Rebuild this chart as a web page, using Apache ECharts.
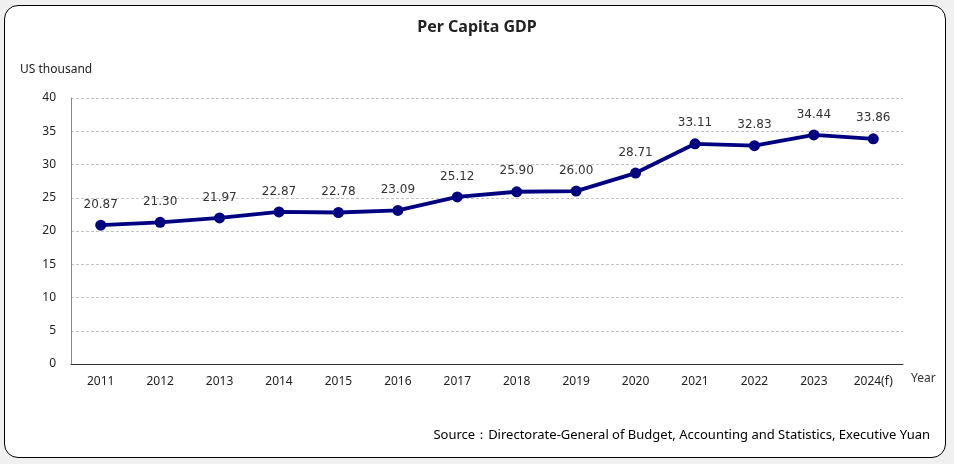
<!DOCTYPE html>
<html><head><meta charset="utf-8">
<script src="https://cdn.jsdelivr.net/npm/echarts@6/dist/echarts.min.js"></script>
<style>
html,body{margin:0;padding:0;background:#f0f0f0;width:954px;height:464px;overflow:hidden;}
#box{position:absolute;left:4px;top:5px;width:940px;height:451px;border:1.5px solid #000;border-radius:14px;background:#fff;}
#c{position:absolute;left:0;top:0;width:954px;height:464px;}
</style></head>
<body><div id="box"></div><div id="c"></div>
<script>
const categories = ['2011','2012','2013','2014','2015','2016','2017','2018','2019','2020','2021','2022','2023','2024(f)'];
const gdpValues = [20.87,21.30,21.97,22.87,22.78,23.09,25.12,25.90,26.00,28.71,33.11,32.83,34.44,33.86];
const yTicks = {min:0,max:40,interval:5};
const font = 'Noto Sans, DejaVu Sans, sans-serif';
const chart = echarts.init(document.getElementById('c'));
chart.setOption({
  backgroundColor:'transparent',
  animation:false,
  title:{text:'Per Capita GDP',left:'center',top:14,textStyle:{fontFamily:font,fontSize:16,fontWeight:'bold',color:'#222'}},
  grid:{left:71,right:51,top:98,bottom:100,containLabel:false,outerBoundsMode:'none'},
  xAxis:{type:'category',data:categories,name:'Year',nameGap:8,nameTextStyle:{fontFamily:font,fontSize:12,color:'#333',verticalAlign:'top',padding:[9,0,0,0]},
    axisLine:{lineStyle:{color:'#333',width:1}},axisTick:{show:false},
    axisLabel:{fontFamily:font,fontSize:12,color:'#222',margin:12}},
  yAxis:{type:'value',min:yTicks.min,max:yTicks.max,interval:yTicks.interval,
    axisLine:{show:true,lineStyle:{color:'#888'}},
    axisLabel:{fontFamily:font,fontSize:12,color:'#222',margin:15},
    splitLine:{lineStyle:{color:'#c4c4c4',type:[3,2],width:1}}},
  series:[{type:'line',data:gdpValues,symbol:'circle',symbolSize:11,
    lineStyle:{color:'#000080',width:3.8},itemStyle:{color:'#000080'},
    label:{show:true,position:'top',distance:9,formatter:p=>p.value.toFixed(2),fontFamily:'DejaVu Sans, sans-serif',fontSize:12,color:'#333'}}],
  graphic:[
    {type:'text',left:20,top:64,style:{text:'US thousand',font:'12px '+font,fill:'#222'}},
    {type:'text',right:24,top:429,style:{text:'Source：Directorate-General of Budget, Accounting and Statistics, Executive Yuan',font:'13px '+font,fill:'#000'}}]
});
</script></body></html>
